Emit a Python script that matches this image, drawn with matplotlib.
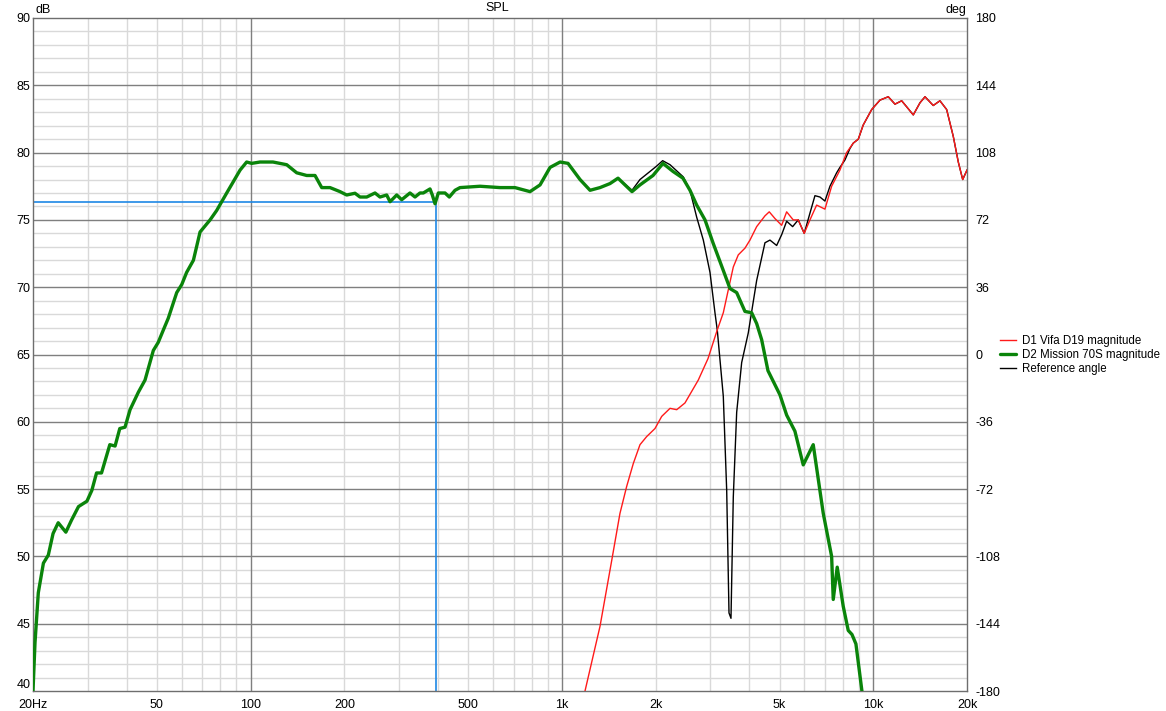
import numpy as np
import matplotlib
matplotlib.use("Agg")
import matplotlib.pyplot as plt
from matplotlib.lines import Line2D

plt.rcParams['font.family'] = ['Liberation Sans', 'DejaVu Sans']

# ---------------- data ----------------
# D2 Mission 70S magnitude (green)
d2_freq = [20, 20.3, 20.8, 21.6, 22.4, 23.2, 24.1, 25.5, 26.6, 28.0, 29.8, 30.9, 32.0, 33.2,
           35.3, 36.7, 38.0, 39.5, 41.0, 43.6, 45.8, 48.7, 50.5, 52.4, 54.4, 57.9, 60.1, 62.3,
           65.5, 68.8, 74.1, 77.8, 83.8, 92.5, 97.1, 100.8, 107.2, 118, 130.6, 140.6, 151.4,
           161, 169.2, 179.9, 193.7, 203.5, 216.4, 224.6, 236, 250.9, 260.3, 273.6, 280.4,
           294.6, 305.7, 325, 337.3, 350, 358.7, 376.9, 383.4, 391.1, 400.8, 421.1, 434.7,
           453.5, 470.5, 545.7, 632.5, 706.7, 789.6, 850.5, 915.9, 986.5, 1046, 1143, 1231,
           1325, 1427, 1514, 1594, 1679, 1781, 1961, 2111, 2274, 2447, 2578, 2709, 2881, 3056,
           3291, 3465, 3641, 3871, 4068, 4221, 4380, 4589, 5015, 5269, 5602, 5957, 6414, 6907,
           7349, 7437, 7659, 8006, 8309, 8542, 8795, 9194]
d2_db = [40.0, 43.6, 47.3, 49.5, 50.1, 51.7, 52.5, 51.8, 52.7, 53.7, 54.1, 54.9, 56.2, 56.2,
         58.3, 58.2, 59.5, 59.6, 60.9, 62.2, 63.1, 65.3, 65.9, 66.8, 67.7, 69.6, 70.2, 71.1,
         72.0, 74.1, 75.0, 75.7, 77.0, 78.7, 79.3, 79.2, 79.3, 79.3, 79.1, 78.5, 78.3,
         78.3, 77.4, 77.4, 77.1, 76.85, 76.98, 76.7, 76.7, 77.0, 76.7, 76.85, 76.35,
         76.85, 76.5, 77.0, 76.7, 77.0, 77.0, 77.3, 76.85, 76.2, 77.0, 77.0, 76.7,
         77.2, 77.4, 77.5, 77.4, 77.4, 77.1, 77.6, 78.9, 79.3, 79.2, 78.0, 77.2,
         77.4, 77.7, 78.1, 77.6, 77.1, 77.6, 78.3, 79.2, 78.6, 78.1, 77.2, 76.1, 75.0, 73.3,
         71.3, 69.9, 69.6, 68.2, 68.1, 67.3, 66.1, 63.8, 62.0, 60.5, 59.3, 56.8, 58.3, 53.2,
         50.0, 46.8, 49.2, 46.3, 44.5, 44.2, 43.5, 40.0]

# D1 Vifa D19 magnitude (red)
d1_freq = [1186, 1325, 1445, 1536, 1614, 1695, 1781, 1871, 1990, 2091, 2224, 2337, 2484,
           2741, 2946, 3141, 3298, 3422, 3551, 3684, 3871, 4017, 4221, 4488, 4633, 4833,
           5078, 5269, 5532, 5740, 6001, 6260, 6577, 6994, 7349, 7813, 8210, 8621, 8952,
           9283, 9882, 10508, 11173, 11740, 12337, 12803, 13443, 14125, 14659, 15582,
           16372, 17205, 18071, 18753, 19373, 20000]
d1_db = [40.0, 44.8, 49.7, 53.2, 55.2, 56.9, 58.3, 58.9, 59.5, 60.4, 61.0, 60.9, 61.4,
         63.1, 64.7, 66.7, 68.1, 69.8, 71.5, 72.4, 72.9, 73.5, 74.5, 75.3, 75.6, 75.1,
         74.6, 75.6, 75.0, 75.0, 74.0, 75.0, 76.1, 75.8, 77.5, 78.7, 80.0, 80.7, 81.0,
         82.05, 83.2, 83.9, 84.15, 83.6, 83.85, 83.4, 82.8, 83.7, 84.15, 83.5,
         83.85, 83.2, 81.2, 79.3, 78.0, 78.7]

# Reference angle trace (black), up to where it joins the red trace
ref_freq = [1514, 1679, 1781, 2015, 2106, 2224, 2452, 2578, 2709, 2845, 2989, 3101, 3155,
            3298, 3382, 3440, 3491, 3551, 3641, 3778, 3967, 4221, 4488, 4657, 4894, 5078,
            5269, 5508, 5740, 6001, 6260, 6496, 6740, 6994, 7258, 7626, 7813, 8108, 8413]
ref_db = [78.1, 77.2, 78.0, 79.0, 79.4, 79.1, 78.2, 77.2, 75.2, 73.5, 71.1, 68.1, 66.8,
          61.9, 54.9, 45.8, 45.4, 54.4, 60.7, 64.4, 66.6, 70.5, 73.3, 73.5, 73.1, 73.9,
          74.9, 74.5, 75.0, 74.0, 75.5, 76.8, 76.7, 76.4, 77.5, 78.5, 78.9, 79.45, 80.3]

cursor_freq = 394
cursor_db = 76.33

x_ticks = [20, 50, 100, 200, 500, 1000, 2000, 5000, 10000, 20000]
x_tick_labels = ['20Hz', '50', '100', '200', '500', '1k', '2k', '5k', '10k', '20k']
y_ticks = [40, 45, 50, 55, 60, 65, 70, 75, 80, 85, 90]
deg_ticks = [-180, -144, -108, -72, -36, 0, 36, 72, 108, 144, 180]

# ---------------- figure ----------------
W, H = 1166, 711
fig = plt.figure(figsize=(W / 100, H / 100), dpi=100)
ax = fig.add_axes([33 / W, (H - 691) / H, 934 / W, 673 / H])
ax.set_xscale('log')
ax.set_xlim(20, 20000)
ax.set_ylim(40, 90)

minor_col = '#d9d9d9'
major_col = '#7f7f7f'
# minor grid
for dec in [10, 100, 1000, 10000]:
    for m in range(2, 10):
        f = dec * m
        if 20 < f < 20000:
            ax.axvline(f, color=minor_col, lw=1, zorder=0)
for v in range(41, 90):
    if v % 5:
        ax.axhline(v, color=minor_col, lw=1, zorder=0)
# major grid
for f in [100, 1000, 10000]:
    ax.axvline(f, color=major_col, lw=1, zorder=0.5)
for v in range(45, 90, 5):
    ax.axhline(v, color=major_col, lw=1, zorder=0.5)

for s in ax.spines.values():
    s.set_color('#6e6e6e')
    s.set_linewidth(1)

ax.set_xticks(x_ticks)
ax.set_xticklabels(x_tick_labels)
ax.xaxis.set_minor_locator(matplotlib.ticker.NullLocator())
ax.set_yticks(y_ticks)
ax.set_yticklabels([str(v) for v in y_ticks])
ax.tick_params(axis='both', length=0, labelsize=9, colors='black')
ax.tick_params(axis='x', pad=5.5)
ax.tick_params(axis='y', pad=2)
# lift the lowest y label slightly so it clears the "20Hz" label
ylabs = ax.get_yticklabels()
ylabs[0].set_verticalalignment('bottom')

# cursor
ax.plot([20, cursor_freq], [cursor_db, cursor_db], color='#1e88e5', lw=1.2, zorder=2)
ax.plot([cursor_freq, cursor_freq], [40, cursor_db], color='#1e88e5', lw=1.2, zorder=2)

# traces
ref_full_f = ref_freq + [f for f in d1_freq if f > ref_freq[-1]]
ref_full_db = ref_db + [d for f, d in zip(d1_freq, d1_db) if f > ref_freq[-1]]
l_ref, = ax.plot(ref_full_f, ref_full_db, color='black', lw=1.0, zorder=3)
l_d1, = ax.plot(d1_freq, d1_db, color='#ff1a1a', lw=1.0, zorder=4)
l_d2, = ax.plot(d2_freq, d2_db, color='#0a840a', lw=2.4, zorder=5,
                solid_joinstyle='round', solid_capstyle='round')

# right axis
ax2 = ax.twinx()
ax2.set_ylim(-180, 180)
ax2.set_yticks(deg_ticks)
ax2.set_yticklabels([str(v) for v in deg_ticks])
ax2.tick_params(axis='y', length=0, labelsize=9, pad=6)
for s in ax2.spines.values():
    s.set_visible(False)

# titles
fig.text(497 / W, 1 - 8 / H, 'SPL', ha='center', va='center', fontsize=9)
fig.text(35 / W, 1 - 10 / H, 'dB', ha='left', va='center', fontsize=9)
fig.text(966 / W, 1 - 10 / H, 'deg', ha='right', va='center', fontsize=9)

# legend
leg = fig.legend([l_d1, l_d2, l_ref],
                 ['D1 Vifa D19 magnitude', 'D2 Mission 70S magnitude', 'Reference angle'],
                 loc='center left', bbox_to_anchor=(1000 / W, 1 - 355 / H),
                 frameon=False, fontsize=8.3, handlelength=1.4, handletextpad=0.5,
                 labelspacing=0.18, borderaxespad=0, borderpad=0)

fig.savefig('out.png', dpi=100)
